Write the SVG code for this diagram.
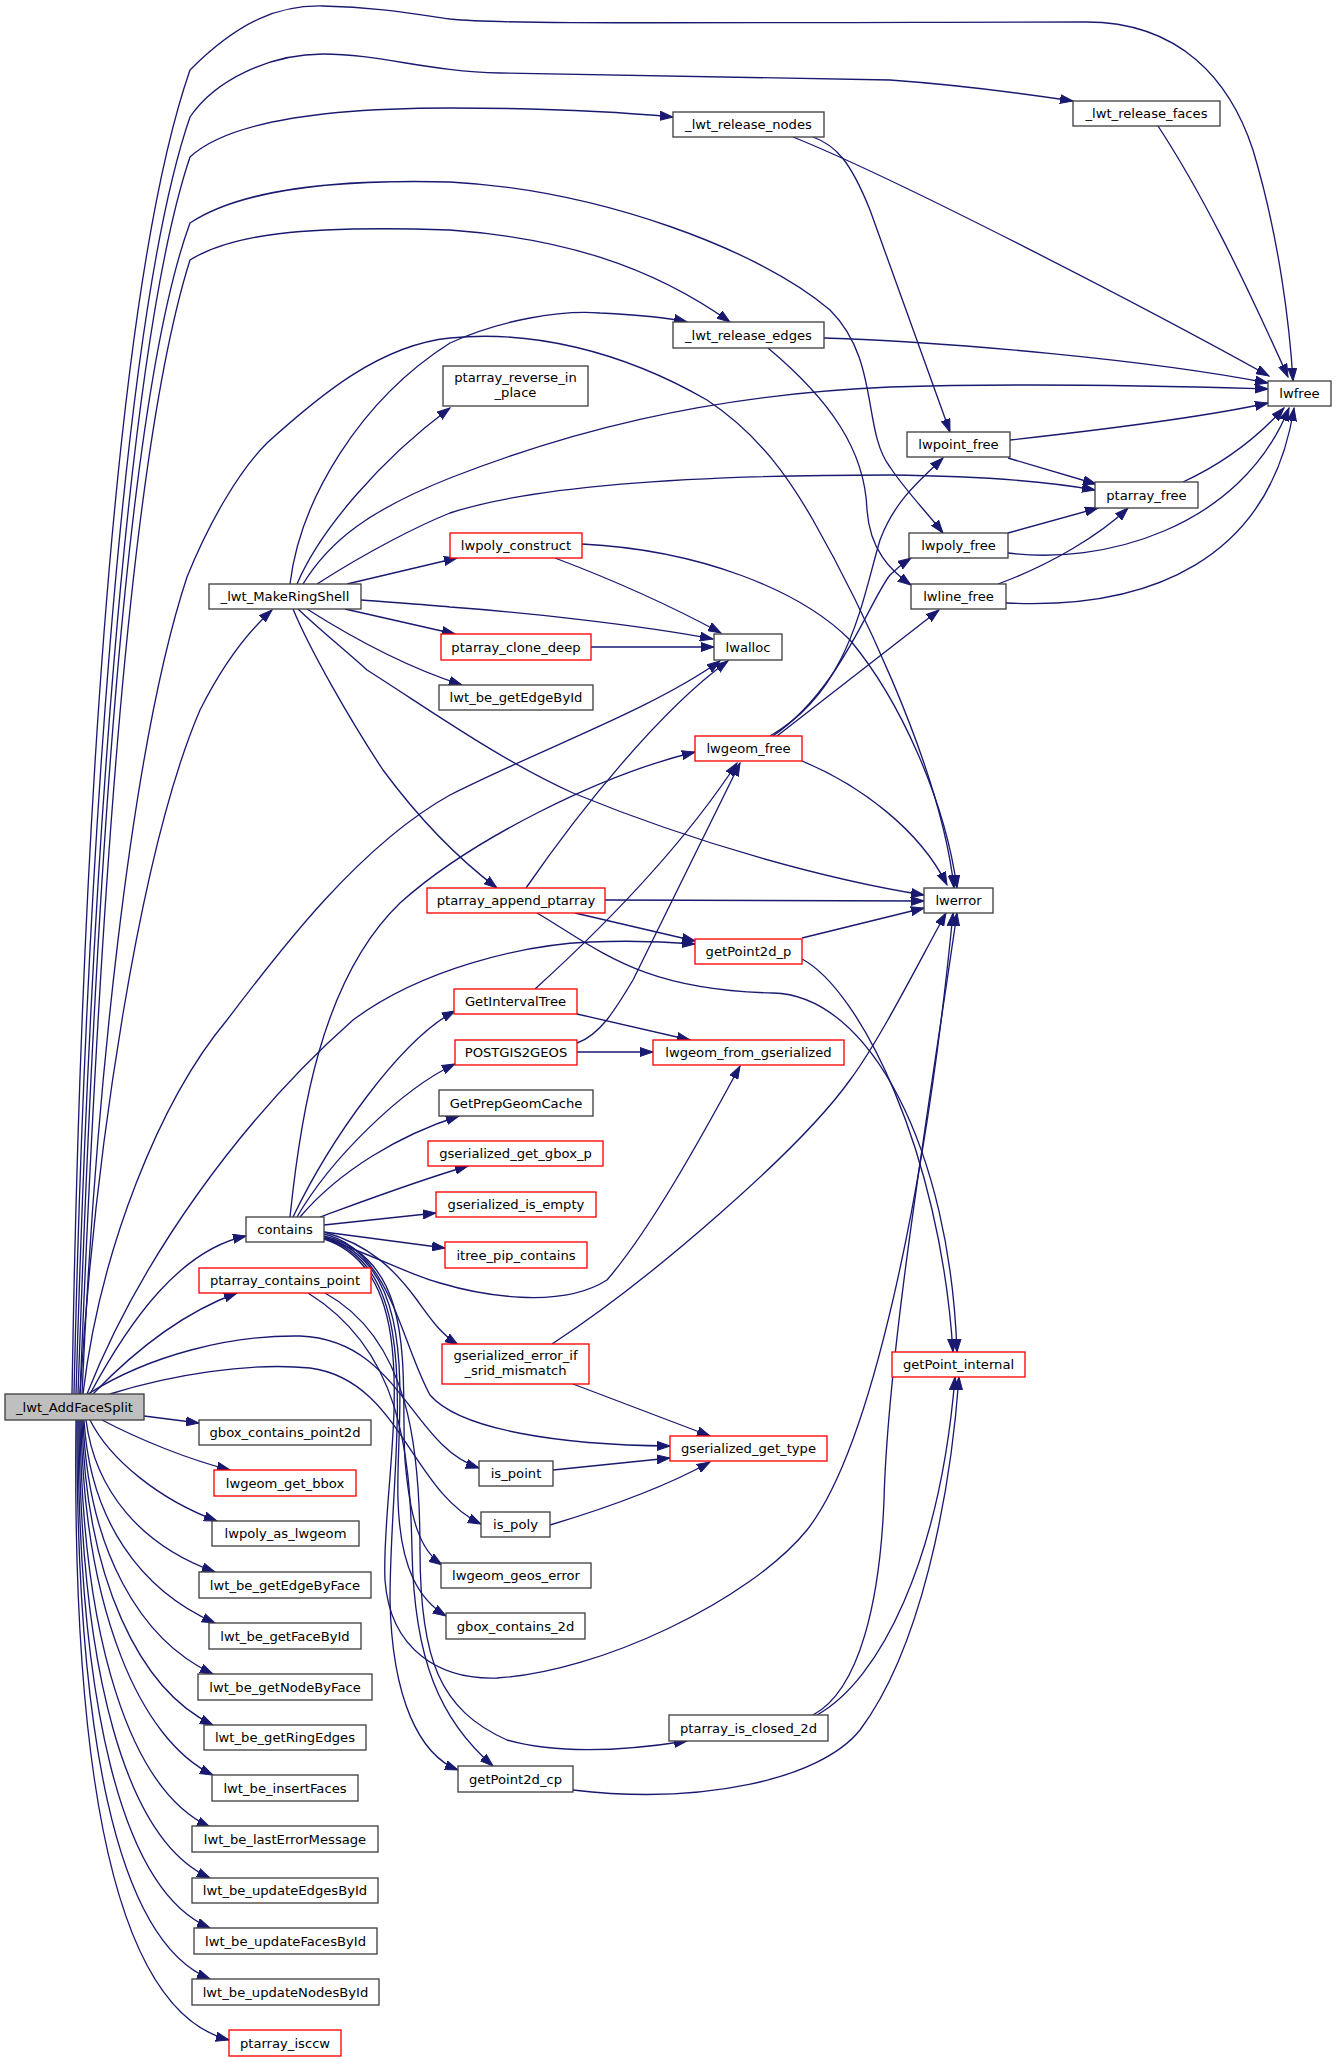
<svg xmlns="http://www.w3.org/2000/svg" width="1336" height="2059" viewBox="0 0 1336 2059">
<style>
.n rect{fill:#fff;stroke:#404040;stroke-width:1.33}
.r rect{fill:#fff;stroke:#f00;stroke-width:1.33}
.root rect{fill:#bfbfbf;stroke:#404040;stroke-width:1.33}
text{font-family:"DejaVu Sans","Liberation Sans",sans-serif;font-size:13.15px;fill:#000;text-anchor:middle}
#edges path{fill:none;stroke:#191970;stroke-width:1.33;marker-end:url(#a)}
</style>
<defs>
<marker id="a" markerWidth="14" markerHeight="10" refX="13" refY="5" orient="auto" markerUnits="userSpaceOnUse"><path d="M0,0.5 L13,5 L0,9.5 z" fill="#191970" stroke="#191970" stroke-width="1"/></marker>
</defs>
<rect width="1336" height="2059" fill="#fff"/>
<g id="edges">
<!-- root top arcs -->
<path d="M72,1394 C80,900 110,300 190,70 C240,20 280,5 323,6 C380,7 420,15 450,19 C500,24 600,23 1086,22 C1180,22 1230,80 1253,150 C1280,240 1290,330 1293,381"/>
<path d="M74,1394 C85,900 120,320 190,117 C215,80 270,54 323,54 C380,54 430,72 500,73 L890,80 C960,85 1020,93 1073,101"/>
<path d="M76,1394 C90,900 125,350 190,157 C230,120 330,108 450,108 C540,108 620,112 673,117"/>
<path d="M78,1394 C95,900 125,400 190,223 C240,190 330,179 450,182 C600,190 760,250 830,310 C880,360 862,430 890,467 C905,490 925,510 943,533"/>
<path d="M80,1394 C100,900 130,450 190,260 C230,235 300,225 450,230 C560,238 650,265 730,322"/>
<path d="M82,1394 C95,1100 130,750 187,577 C210,520 240,470 267,443 C320,395 380,345 450,338 C530,330 620,350 707,400 C760,435 790,480 813,520 C850,585 940,760 954,888"/>
<path d="M80,1394 C95,1150 140,850 200,710 C225,660 250,630 272,610"/>
<path d="M83,1394 C100,1250 160,1100 227,1020 C280,950 360,845 450,795 C550,745 650,710 720,661"/>
<path d="M87,1394 C140,1260 240,1120 353,1020 C420,970 520,945 590,942 C640,940 670,942 695,944"/>
<path d="M90,1394 C130,1320 180,1250 246,1236"/>
<path d="M93,1394 C140,1345 190,1310 237,1293"/>
<path d="M88,1394 C150,1355 230,1335 300,1336 C400,1340 410,1445 479,1468"/>
<path d="M110,1394 C170,1375 250,1362 310,1368 C400,1380 410,1490 481,1524"/>
<!-- root right/bottom fan -->
<path d="M144,1416 L199,1423"/>
<path d="M102,1420 C140,1440 190,1460 230,1470"/>
<path d="M90,1420 C110,1460 160,1500 217,1521"/>
<path d="M86,1420 C95,1490 140,1545 215,1572"/>
<path d="M84,1420 C90,1520 140,1590 215,1623"/>
<path d="M83,1420 C88,1550 140,1640 213,1674"/>
<path d="M82,1420 C86,1580 140,1690 213,1725"/>
<path d="M81,1420 C84,1610 140,1740 213,1775"/>
<path d="M80,1420 C82,1640 130,1790 210,1827"/>
<path d="M79,1420 C80,1670 125,1840 210,1878"/>
<path d="M78,1420 C78,1700 120,1890 210,1928"/>
<path d="M77,1420 C76,1730 115,1940 210,1979"/>
<path d="M76,1420 C72,1760 110,2010 229,2040"/>
<!-- MakeRingShell -->
<path d="M290,584 C300,500 360,400 450,343 C500,320 560,310 600,313 C640,315 670,318 687,322"/>
<path d="M297,584 C320,530 380,460 450,408"/>
<path d="M303,584 C330,540 370,510 450,478 C560,435 700,395 890,387 C1050,382 1200,387 1268,389"/>
<path d="M317,584 C370,550 420,525 450,513 C520,490 650,475 890,475 C980,476 1050,482 1095,490"/>
<path d="M347,584 L457,558"/>
<path d="M361,600 C400,603 430,605 450,607 C520,612 640,625 713,639"/>
<path d="M345,609 L455,634"/>
<path d="M307,609 C340,630 400,665 462,685"/>
<path d="M298,609 C320,630 345,650 367,670 C430,710 500,760 573,793 C700,845 830,880 924,895"/>
<path d="M293,609 C310,650 350,720 383,770 C420,820 460,860 497,888"/>
<!-- release nodes/edges/faces -->
<path d="M793,137 C900,180 1150,310 1269,376"/>
<path d="M813,137 C835,145 850,160 870,210 L950,432"/>
<path d="M824,338 C950,342 1150,360 1268,383"/>
<path d="M768,348 C830,400 865,450 867,510 C870,550 890,570 911,585"/>
<path d="M1158,126 C1200,190 1240,270 1288,377"/>
<!-- frees -->
<path d="M1010,440 C1100,430 1200,418 1268,403"/>
<path d="M1008,458 L1096,484"/>
<path d="M1183,482 C1220,465 1255,440 1284,408"/>
<path d="M1008,533 L1098,508"/>
<path d="M1008,553 C1100,565 1240,530 1289,408"/>
<path d="M1006,603 C1150,610 1270,560 1294,408"/>
<path d="M998,584 C1050,565 1100,535 1128,508"/>
<!-- lwgeom_free -->
<path d="M770,736 C850,690 862,600 880,540 C895,500 920,480 943,458"/>
<path d="M773,736 C840,690 870,600 890,575 C897,568 905,562 911,558"/>
<path d="M777,736 L939,610"/>
<path d="M802,761 C860,785 920,830 947,885"/>
<!-- lwpoly_construct, clone -->
<path d="M555,558 C600,575 660,600 721,633"/>
<path d="M582,544 C700,550 800,590 850,640 C900,700 945,800 957,888"/>
<path d="M591,647 L714,647"/>
<!-- ptarray_append_ptarray -->
<path d="M526,888 C580,810 660,710 728,661"/>
<path d="M605,900 L924,901"/>
<path d="M575,913 L695,941"/>
<path d="M537,913 C600,950 640,990 773,993 C870,995 950,1150 957,1352"/>
<!-- getPoint2d_p -->
<path d="M802,959 C860,990 940,1150 953,1352"/>
<path d="M802,938 L924,908"/>
<!-- GetIntervalTree, POSTGIS2GEOS -->
<path d="M535,989 C600,930 680,850 737,763"/>
<path d="M577,1014 L690,1040"/>
<path d="M577,1043 C600,1035 615,1010 633,980 L740,763"/>
<path d="M577,1052 L653,1052"/>
<!-- contains -->
<path d="M290,1217 C300,1120 320,980 400,903 C470,840 600,775 695,752"/>
<path d="M293,1217 C330,1140 400,1040 455,1011"/>
<path d="M297,1217 C330,1160 400,1090 455,1064"/>
<path d="M300,1217 C340,1170 400,1135 459,1116"/>
<path d="M320,1217 C380,1195 420,1180 468,1166"/>
<path d="M324,1225 L436,1213"/>
<path d="M324,1232 L445,1248"/>
<path d="M324,1238 C380,1258 410,1275 440,1283 C480,1295 560,1310 607,1280 C650,1230 700,1140 740,1066"/>
<path d="M324,1232 C370,1245 395,1270 417,1300 C430,1318 440,1333 458,1345"/>
<path d="M324,1234 C390,1250 400,1340 430,1395 C460,1430 560,1445 670,1446"/>
<path d="M324,1236 C420,1260 400,1380 405,1460 C410,1520 420,1550 442,1565"/>
<path d="M324,1237 C425,1265 395,1420 398,1500 C400,1570 420,1600 446,1616"/>
<path d="M324,1238 C430,1270 390,1450 390,1600 C392,1700 420,1755 458,1770"/>
<path d="M324,1239 C435,1275 380,1480 385,1580 C390,1650 440,1680 497,1678 C600,1672 750,1600 807,1530 C870,1450 925,1200 953,913"/>
<!-- ptarray_contains_point -->
<path d="M325,1293 C410,1340 420,1450 420,1550 C420,1660 440,1710 507,1740 C560,1755 630,1750 687,1741"/>
<path d="M308,1293 C400,1350 410,1450 412,1550 C414,1660 440,1720 493,1766"/>
<!-- gserialized -->
<path d="M552,1344 C650,1280 800,1150 850,1080 C880,1040 920,960 946,913"/>
<path d="M573,1384 L710,1436"/>
<path d="M553,1470 L670,1458"/>
<path d="M550,1525 C600,1510 660,1490 710,1462"/>
<!-- closed_2d / cp -->
<path d="M813,1715 C860,1690 880,1600 884,1500 C888,1350 930,1100 957,913"/>
<path d="M817,1715 C880,1680 940,1560 955,1377"/>
<path d="M573,1790 C700,1805 820,1780 860,1730 C920,1650 950,1500 959,1377"/>
</g>
<g id="n_root" class="root"><rect x="5" y="1394" width="139" height="26"/><text x="74.5" y="1411.5">_lwt_AddFaceSplit</text></g>
<g id="n_release_nodes" class="n"><rect x="673" y="112" width="151" height="25"/><text x="748.5" y="129">_lwt_release_nodes</text></g>
<g id="n_release_faces" class="n"><rect x="1073" y="101" width="147" height="25"/><text x="1146.5" y="118">_lwt_release_faces</text></g>
<g id="n_release_edges" class="n"><rect x="673" y="322" width="151" height="26"/><text x="748.5" y="339.5">_lwt_release_edges</text></g>
<g id="n_reverse" class="n"><rect x="443" y="366" width="145" height="40"/><text x="515.5" y="382">ptarray_reverse_in</text><text x="515.5" y="397">_place</text></g>
<g id="n_lwfree" class="n"><rect x="1268" y="381" width="63" height="25"/><text x="1299.5" y="398">lwfree</text></g>
<g id="n_lwpoint_free" class="n"><rect x="907" y="432" width="103" height="25"/><text x="958.5" y="449">lwpoint_free</text></g>
<g id="n_ptarray_free" class="n"><rect x="1095" y="482" width="103" height="26"/><text x="1146.5" y="499.5">ptarray_free</text></g>
<g id="n_lwpoly_free" class="n"><rect x="909" y="533" width="99" height="25"/><text x="958.5" y="550">lwpoly_free</text></g>
<g id="n_lwline_free" class="n"><rect x="911" y="584" width="95" height="25"/><text x="958.5" y="601">lwline_free</text></g>
<g id="n_makeringshell" class="n"><rect x="209" y="584" width="152" height="25"/><text x="285" y="601">_lwt_MakeRingShell</text></g>
<g id="n_lwpoly_construct" class="r"><rect x="450" y="533" width="132" height="25"/><text x="516" y="550">lwpoly_construct</text></g>
<g id="n_lwalloc" class="n"><rect x="714" y="634" width="68" height="26"/><text x="748" y="651.5">lwalloc</text></g>
<g id="n_clone_deep" class="r"><rect x="441" y="634" width="150" height="26"/><text x="516" y="651.5">ptarray_clone_deep</text></g>
<g id="n_getEdgeById" class="n"><rect x="439" y="685" width="154" height="25"/><text x="516" y="702">lwt_be_getEdgeById</text></g>
<g id="n_lwgeom_free" class="r"><rect x="695" y="736" width="107" height="25"/><text x="748.5" y="753">lwgeom_free</text></g>
<g id="n_append" class="r"><rect x="427" y="888" width="178" height="25"/><text x="516" y="905">ptarray_append_ptarray</text></g>
<g id="n_lwerror" class="n"><rect x="924" y="888" width="69" height="25"/><text x="958.5" y="905">lwerror</text></g>
<g id="n_getPoint2d_p" class="r"><rect x="695" y="939" width="107" height="25"/><text x="748.5" y="956">getPoint2d_p</text></g>
<g id="n_GetIntervalTree" class="r"><rect x="454" y="989" width="123" height="25"/><text x="515.5" y="1006">GetIntervalTree</text></g>
<g id="n_POSTGIS2GEOS" class="r"><rect x="455" y="1040" width="122" height="25"/><text x="516" y="1057">POSTGIS2GEOS</text></g>
<g id="n_from_gserialized" class="r"><rect x="653" y="1040" width="191" height="25"/><text x="748.5" y="1057">lwgeom_from_gserialized</text></g>
<g id="n_GetPrepGeomCache" class="n"><rect x="439" y="1090" width="154" height="26"/><text x="516" y="1107.5">GetPrepGeomCache</text></g>
<g id="n_get_gbox_p" class="r"><rect x="428" y="1141" width="175" height="25"/><text x="515.5" y="1158">gserialized_get_gbox_p</text></g>
<g id="n_is_empty" class="r"><rect x="436" y="1192" width="160" height="25"/><text x="516" y="1209">gserialized_is_empty</text></g>
<g id="n_contains" class="n"><rect x="246" y="1217" width="78" height="25"/><text x="285" y="1234">contains</text></g>
<g id="n_itree_pip" class="r"><rect x="445" y="1242" width="142" height="26"/><text x="516" y="1259.5">itree_pip_contains</text></g>
<g id="n_contains_point" class="r"><rect x="199" y="1268" width="172" height="25"/><text x="285" y="1285">ptarray_contains_point</text></g>
<g id="n_srid_mismatch" class="r"><rect x="442" y="1344" width="147" height="40"/><text x="515.5" y="1360">gserialized_error_if</text><text x="515.5" y="1375">_srid_mismatch</text></g>
<g id="n_getPoint_internal" class="r"><rect x="892" y="1352" width="133" height="25"/><text x="958.5" y="1369">getPoint_internal</text></g>
<g id="n_gbox_cp2d" class="n"><rect x="199" y="1420" width="172" height="25"/><text x="285" y="1437">gbox_contains_point2d</text></g>
<g id="n_get_type" class="r"><rect x="670" y="1436" width="157" height="25"/><text x="748.5" y="1453">gserialized_get_type</text></g>
<g id="n_is_point" class="n"><rect x="479" y="1461" width="74" height="25"/><text x="516" y="1478">is_point</text></g>
<g id="n_get_bbox" class="r"><rect x="214" y="1470" width="142" height="26"/><text x="285" y="1487.5">lwgeom_get_bbox</text></g>
<g id="n_is_poly" class="n"><rect x="481" y="1512" width="69" height="25"/><text x="515.5" y="1529">is_poly</text></g>
<g id="n_as_lwgeom" class="n"><rect x="212" y="1521" width="147" height="25"/><text x="285.5" y="1538">lwpoly_as_lwgeom</text></g>
<g id="n_geos_error" class="n"><rect x="441" y="1563" width="150" height="25"/><text x="516" y="1580">lwgeom_geos_error</text></g>
<g id="n_getEdgeByFace" class="n"><rect x="199" y="1572" width="172" height="26"/><text x="285" y="1589.5">lwt_be_getEdgeByFace</text></g>
<g id="n_gbox_c2d" class="n"><rect x="446" y="1613" width="139" height="26"/><text x="515.5" y="1630.5">gbox_contains_2d</text></g>
<g id="n_getFaceById" class="n"><rect x="209" y="1623" width="152" height="26"/><text x="285" y="1640.5">lwt_be_getFaceById</text></g>
<g id="n_getNodeByFace" class="n"><rect x="198" y="1674" width="174" height="26"/><text x="285" y="1691.5">lwt_be_getNodeByFace</text></g>
<g id="n_is_closed_2d" class="n"><rect x="669" y="1715" width="159" height="26"/><text x="748.5" y="1732.5">ptarray_is_closed_2d</text></g>
<g id="n_getRingEdges" class="n"><rect x="204" y="1725" width="162" height="25"/><text x="285" y="1742">lwt_be_getRingEdges</text></g>
<g id="n_getPoint2d_cp" class="n"><rect x="458" y="1766" width="115" height="26"/><text x="515.5" y="1783.5">getPoint2d_cp</text></g>
<g id="n_insertFaces" class="n"><rect x="212" y="1775" width="146" height="26"/><text x="285" y="1792.5">lwt_be_insertFaces</text></g>
<g id="n_lastError" class="n"><rect x="192" y="1826" width="186" height="26"/><text x="285" y="1843.5">lwt_be_lastErrorMessage</text></g>
<g id="n_updEdges" class="n"><rect x="192" y="1878" width="186" height="25"/><text x="285" y="1895">lwt_be_updateEdgesById</text></g>
<g id="n_updFaces" class="n"><rect x="194" y="1928" width="183" height="26"/><text x="285.5" y="1945.5">lwt_be_updateFacesById</text></g>
<g id="n_updNodes" class="n"><rect x="192" y="1979" width="187" height="26"/><text x="285.5" y="1996.5">lwt_be_updateNodesById</text></g>
<g id="n_isccw" class="r"><rect x="229" y="2030" width="112" height="26"/><text x="285" y="2047.5">ptarray_isccw</text></g>
</svg>
